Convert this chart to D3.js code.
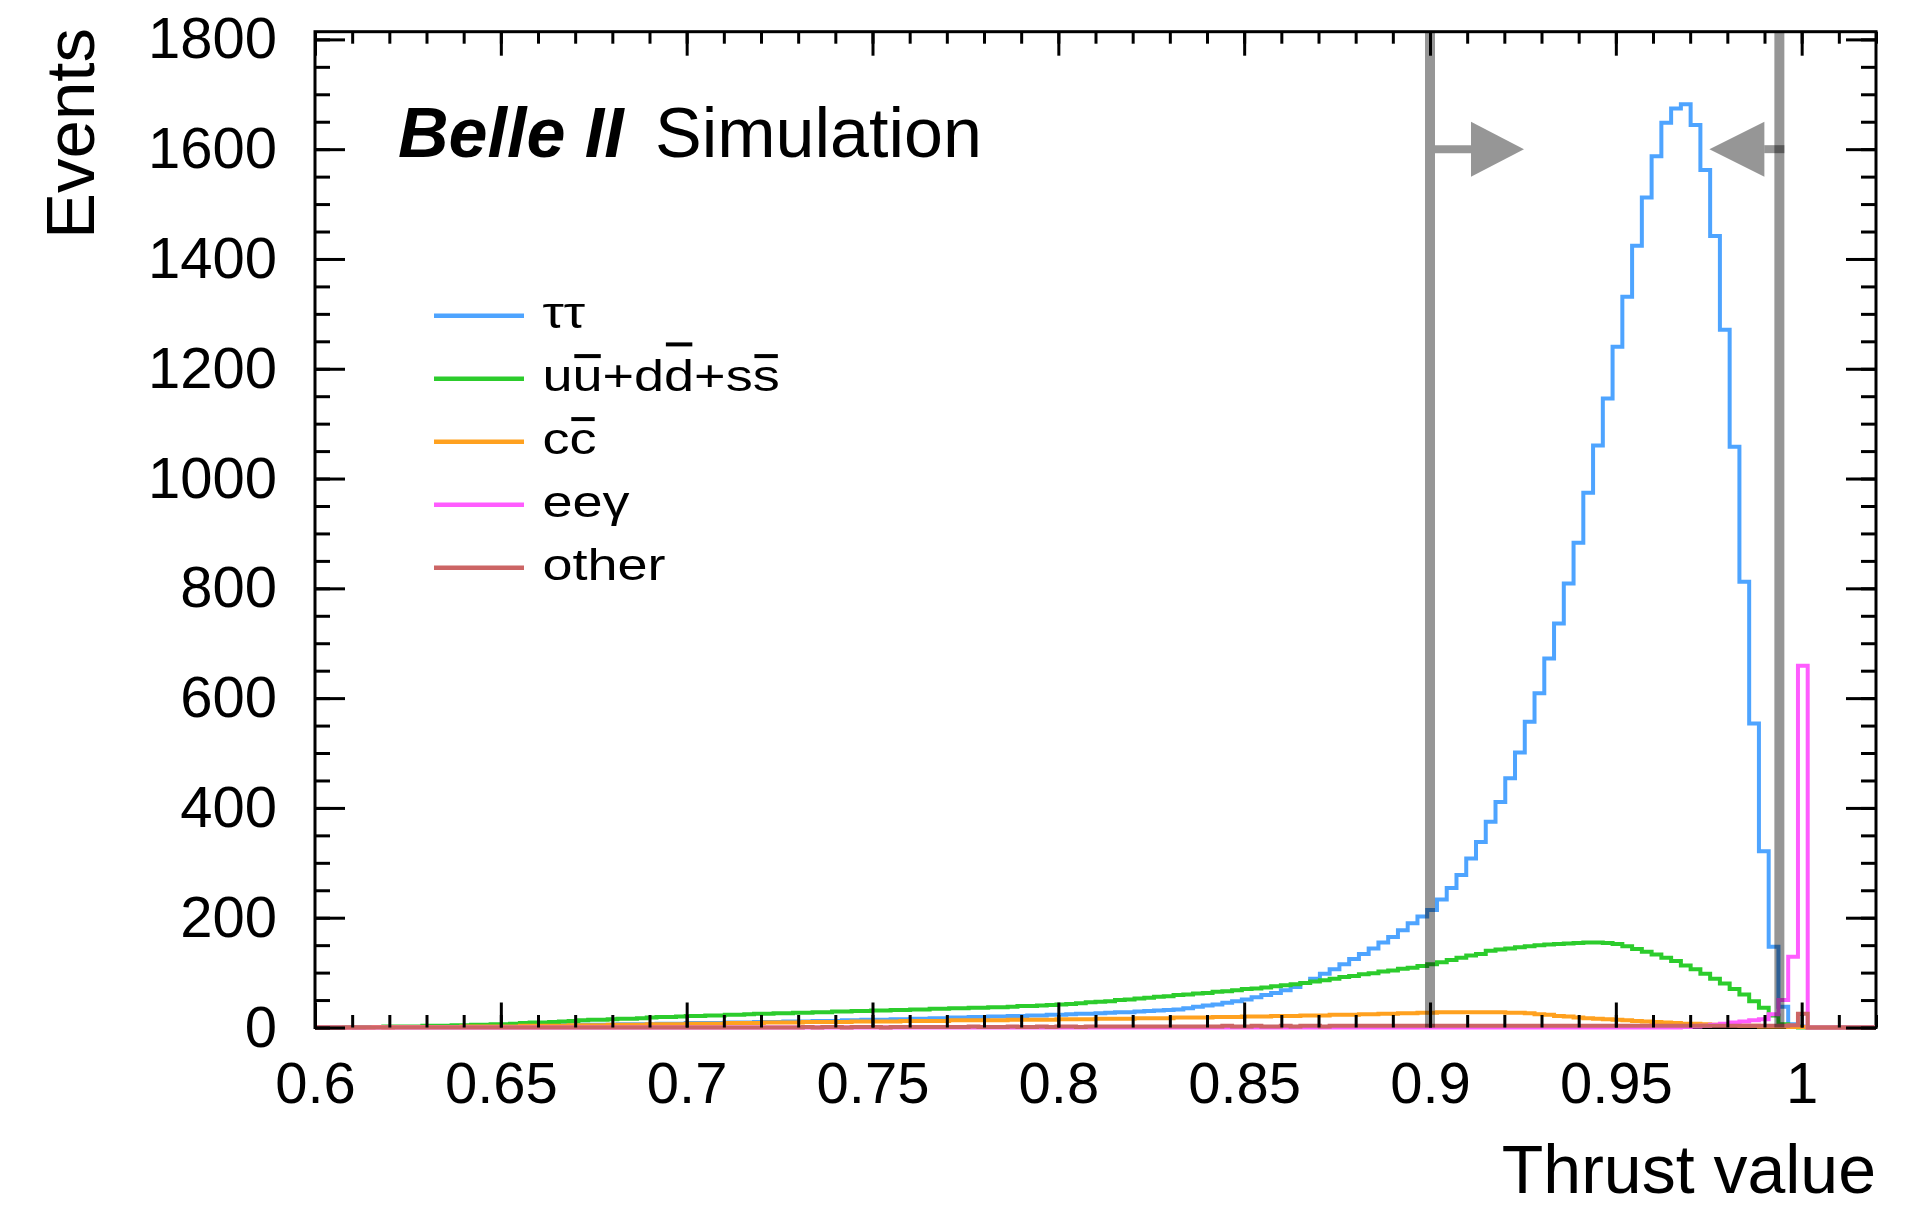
<!DOCTYPE html>
<html>
<head>
<meta charset="utf-8">
<script src="https://cdn.jsdelivr.net/npm/d3@7"></script>
<style>
  html, body { margin: 0; padding: 0; background: #fff; }
  svg { display: block; }
  text { font-family: "Liberation Sans", Arial, Helvetica, sans-serif; fill: #000; }
</style>
</head>
<body>
<svg id="chart" width="1905" height="1209"></svg>
<script>
// Histogram binning: 160 bins between thrust 0.6 and 1.02
const xMin = 0.6, xMax = 1.02, nBins = 160;

// Events per bin, one array per sample
const tauTau = [
  0,0,0,1,0,1,1,1,1,1,
  1,1,2,1,2,2,2,2,3,3,
  3,3,3,4,4,4,4,5,5,5,
  5,6,6,6,6,7,7,7,8,8,
  8,8,9,9,9,10,10,10,11,11,
  11,12,12,12,13,13,14,14,14,15,
  15,16,16,17,17,18,18,19,19,20,
  20,21,21,22,22,23,23,24,25,25,
  26,27,28,28,29,30,31,32,33,35,
  38,40,42,45,48,51,55,59,63,68,
  74,81,89,98,106,115,125,134,144,155,
  165,177,190,202,214,233,254,278,308,338,
  375,411,454,501,557,609,672,736,809,883,
  974,1060,1146,1240,1331,1424,1512,1587,1648,1674,
  1682,1644,1562,1442,1271,1058,812,554,321,147,
  38,6,2,0,0,0,0,0,0,0
];
const qqLight = [
  0,0,0,1,1,1,1,2,2,2,
  2,3,3,3,4,4,5,5,6,6,
  7,8,9,9,10,11,12,13,14,14,
  15,16,16,17,18,19,19,20,21,21,
  22,22,23,23,24,25,25,26,26,27,
  27,28,28,29,29,30,30,31,31,32,
  32,33,33,34,34,35,35,36,36,37,
  37,38,39,39,40,41,42,43,44,46,
  47,48,50,51,53,54,56,57,59,60,
  62,63,65,66,68,70,71,73,75,77,
  79,81,84,86,89,92,94,97,99,102,
  104,107,109,112,115,119,123,127,131,134,
  140,142,144,146,148,150,151,152,153,154,
  155,155,154,152,148,143,138,133,127,121,
  113,106,98,89,80,70,60,48,36,22,
  6,2,0,0,0,0,0,0,0,0
];
const ccbar = [
  0,0,0,0,0,0,1,0,1,1,
  1,1,1,1,1,2,2,2,2,2,
  2,3,3,3,3,3,4,4,4,4,
  5,5,5,5,6,6,6,6,7,7,
  7,7,8,8,8,8,9,9,9,9,
  10,10,10,10,10,11,11,11,11,11,
  12,12,12,12,12,13,13,13,13,13,
  13,14,14,14,14,14,15,15,15,15,
  16,16,16,16,17,17,17,17,18,18,
  18,18,19,19,19,20,20,20,21,21,
  21,22,22,22,23,23,23,24,24,25,
  25,26,26,27,27,28,28,28,28,28,
  28,28,27,27,26,24,23,21,20,18,
  17,16,15,14,13,12,11,10,9,8,
  7,7,6,5,5,4,3,3,2,2,
  2,1,1,0,0,0,0,0,0,0
];
const eeGamma = [
  0,0,0,0,0,0,0,0,0,0,
  0,0,0,0,0,0,0,0,0,0,
  0,0,0,0,0,0,0,0,0,0,
  0,0,0,0,0,0,0,0,0,0,
  0,0,0,0,0,0,0,0,0,0,
  0,0,0,0,0,0,0,0,0,0,
  0,0,0,0,0,0,0,0,0,0,
  0,0,0,0,0,0,0,0,0,0,
  0,0,0,0,0,0,0,0,0,0,
  0,0,0,0,0,0,0,0,0,0,
  0,0,0,0,0,0,0,0,0,0,
  0,0,0,0,0,0,0,0,0,0,
  0,0,0,0,0,0,0,0,0,0,
  0,0,0,0,0,0,0,0,0,0,
  1,2,3,5,7,9,11,13,15,24,
  50,129,659,0,0,0,0,0,0,0
];
const other = [
  0,0,0,0,0,0,0,0,0,0,
  0,0,0,0,0,0,0,0,0,0,
  0,0,0,0,0,0,0,0,0,0,
  0,0,0,0,0,0,0,0,0,0,
  0,0,0,0,0,0,0,0,0,0,
  1,0,1,1,0,1,1,1,0,1,
  1,1,1,1,1,1,1,2,1,1,
  1,2,1,1,2,1,2,2,1,2,
  2,2,2,2,2,2,2,2,2,2,
  2,2,2,3,2,2,3,2,2,3,
  2,3,3,2,3,3,3,3,3,3,
  3,3,3,3,3,3,3,3,3,3,
  3,3,3,3,3,3,3,3,3,3,
  3,3,3,3,3,3,3,3,3,3,
  3,3,3,3,3,3,3,3,3,3,
  3,4,25,0,0,0,0,0,0,0
];

// Sample names and line colours, in legend order
const sampleLabels = ["ττ", "uu+dd+ss", "cc", "eeγ", "other"];
const sampleColors = ["#4ea4ff", "#2ccc2c", "#ffa11f", "#ff5cff", "#cc6565"];
const sampleValues = [tauTau, qqLight, ccbar, eeGamma, other];
// characters that carry an antiquark bar: [label index, char index, tall glyph]
const overbars = [[1, 1, false], [1, 4, true], [1, 7, false], [2, 1, false]];

// Axis ticks
const xMajorTicks = [0.6, 0.65, 0.7, 0.75, 0.8, 0.85, 0.9, 0.95, 1.0];
const xMinorTicks = d3.range(60, 103).map(k => k / 100);
const yMajorTicks = [0, 200, 400, 600, 800, 1000, 1200, 1400, 1600, 1800];
const yMinorTicks = d3.range(0, 1801, 50);
const yMax = 1814;

// Selection window on thrust
const cutValues = [0.9, 0.994];
const arrowLevel = 1600;

const svg = d3.select("#chart");
const plotLeft = 315, plotRight = 1876, plotTop = 31.7, plotBottom = 1027.5;

const x = d3.scaleLinear().domain([xMin, xMax]).range([plotLeft, plotRight]);
const y = d3.scaleLinear().domain([0, yMax]).range([plotBottom, plotTop]);

const binWidth = (xMax - xMin) / nBins;
const edges = d3.range(nBins + 1).map(i => xMin + i * binWidth);

// Frame (histograms are drawn over its lower edge)
svg.append("rect")
  .attr("x", plotLeft).attr("y", plotTop)
  .attr("width", plotRight - plotLeft).attr("height", plotBottom - plotTop)
  .attr("fill", "none").attr("stroke", "#000").attr("stroke-width", 3);

// step outline of a histogram
const stepLine = d3.line()
  .x(d => x(d[0]))
  .y(d => y(d[1]))
  .curve(d3.curveStepAfter);

function histPoints(vals) {
  const pts = [[edges[0], 0]];
  vals.forEach((v, i) => pts.push([edges[i], v]));
  pts.push([edges[nBins], vals[nBins - 1]]);
  pts.push([edges[nBins], 0]);
  return pts;
}

const histG = svg.append("g");
sampleValues.forEach((vals, k) => {
  histG.append("path")
    .attr("d", stepLine(histPoints(vals)))
    .attr("fill", "none")
    .attr("stroke", sampleColors[k])
    .attr("stroke-width", 4)
    .attr("stroke-linejoin", "miter");
});

function styleAxis(g, size) {
  g.select(".domain").remove();
  g.selectAll(".tick line").attr("stroke", "#000").attr("stroke-width", 3);
  g.attr("font-family", null).attr("font-size", size);
  g.selectAll("text").attr("fill", "#000");
}

// Bottom axis with labels
svg.append("g").attr("transform", `translate(0,${plotBottom})`)
  .call(d3.axisBottom(x).tickValues(xMinorTicks).tickSize(-12.5).tickFormat(""))
  .call(g => styleAxis(g, 58));
svg.append("g").attr("transform", `translate(0,${plotBottom})`)
  .call(d3.axisBottom(x).tickValues(xMajorTicks).tickSize(-25).tickPadding(34)
    .tickFormat(d => String(+d.toFixed(2))))
  .call(g => styleAxis(g, 58));
// Top axis ticks
svg.append("g").attr("transform", `translate(0,${plotTop})`)
  .call(d3.axisTop(x).tickValues(xMinorTicks).tickSize(-12).tickFormat(""))
  .call(g => styleAxis(g, 58));
svg.append("g").attr("transform", `translate(0,${plotTop})`)
  .call(d3.axisTop(x).tickValues(xMajorTicks).tickSize(-24).tickFormat(""))
  .call(g => styleAxis(g, 58));

// Left axis with labels
svg.append("g").attr("transform", `translate(${plotLeft},0)`)
  .call(d3.axisLeft(y).tickValues(yMinorTicks).tickSize(-15).tickFormat(""))
  .call(g => styleAxis(g, 58));
svg.append("g").attr("transform", `translate(${plotLeft},0)`)
  .call(d3.axisLeft(y).tickValues(yMajorTicks).tickSize(-30).tickPadding(38)
    .tickFormat(d3.format("d")))
  .call(g => styleAxis(g, 58));
// Right axis ticks
svg.append("g").attr("transform", `translate(${plotRight},0)`)
  .call(d3.axisRight(y).tickValues(yMinorTicks).tickSize(-15).tickFormat(""))
  .call(g => styleAxis(g, 58));
svg.append("g").attr("transform", `translate(${plotRight},0)`)
  .call(d3.axisRight(y).tickValues(yMajorTicks).tickSize(-30).tickFormat(""))
  .call(g => styleAxis(g, 58));

// Cut lines and arrows (semi-transparent grey)
const cutG = svg.append("g");
cutValues.forEach(c => {
  cutG.append("line")
    .attr("x1", x(c)).attr("x2", x(c))
    .attr("y1", plotTop).attr("y2", plotBottom)
    .attr("stroke", "#000").attr("stroke-opacity", 0.41)
    .attr("stroke-width", 10);
});
const ay = y(arrowLevel);
{
  const x0 = x(cutValues[0]);
  cutG.append("line")
    .attr("x1", x0 + 5).attr("x2", x0 + 41)
    .attr("y1", ay).attr("y2", ay)
    .attr("stroke", "#000").attr("stroke-opacity", 0.41).attr("stroke-width", 8);
  cutG.append("path")
    .attr("d", `M${x0 + 41},${ay - 27.5}L${x0 + 94},${ay}L${x0 + 41},${ay + 27.5}Z`)
    .attr("fill", "#000").attr("fill-opacity", 0.41);
  const x1 = x(cutValues[1]);
  cutG.append("line")
    .attr("x1", x1 - 15).attr("x2", x1 + 5)
    .attr("y1", ay).attr("y2", ay)
    .attr("stroke", "#000").attr("stroke-opacity", 0.41).attr("stroke-width", 8);
  cutG.append("path")
    .attr("d", `M${x1 - 15},${ay - 27.5}L${x1 - 70},${ay}L${x1 - 15},${ay + 27.5}Z`)
    .attr("fill", "#000").attr("fill-opacity", 0.41);
}

// Axis titles
svg.append("text")
  .attr("x", 1876).attr("y", 1193)
  .attr("text-anchor", "end")
  .attr("font-size", 68)
  .text("Thrust value");
svg.append("text")
  .attr("transform", "translate(94,28) rotate(-90)")
  .attr("text-anchor", "end")
  .attr("font-size", 69)
  .text("Events");

// Experiment label
svg.append("text")
  .attr("x", 398).attr("y", 157)
  .attr("font-size", 70).attr("font-weight", "bold").attr("font-style", "italic")
  .text("Belle II");
svg.append("text")
  .attr("x", 655).attr("y", 157)
  .attr("font-size", 70)
  .text("Simulation");

// Legend
const legFs = 45, legScale = 1.2;
const legTop = 315.7, legStep = 63;
sampleLabels.forEach((lab, k) => {
  const ly = legTop + k * legStep;
  svg.append("line")
    .attr("x1", 434).attr("x2", 524)
    .attr("y1", ly).attr("y2", ly)
    .attr("stroke", sampleColors[k]).attr("stroke-width", 4.5);
  const g = svg.append("g")
    .attr("transform", `translate(542.5,${ly + 12.5}) scale(${legScale},1)`);
  const t = g.append("text")
    .attr("x", 0).attr("y", 0)
    .attr("font-size", legFs)
    .text(lab);
  overbars.filter(b => b[0] === k).forEach(b => {
    const ext = t.node().getExtentOfChar(b[1]);
    const by = b[2] ? -1.04 * legFs : -0.78 * legFs;
    g.append("line")
      .attr("x1", ext.x + 1.5).attr("x2", ext.x + ext.width - 1.5)
      .attr("y1", by).attr("y2", by)
      .attr("stroke", "#000").attr("stroke-width", 4);
  });
});
</script>
</body>
</html>
